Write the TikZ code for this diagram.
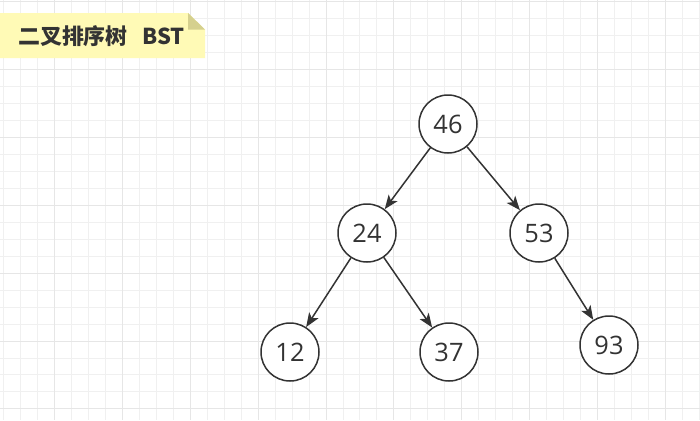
\documentclass[tikz,border=0pt]{standalone}
\usepackage{fontspec}
\setmainfont{Open Sans}
\newfontfamily\cjk{Noto Sans CJK SC}
\usetikzlibrary{arrows.meta}
\definecolor{ink}{HTML}{333333}
\definecolor{gridminor}{HTML}{F0F0F0}
\definecolor{gridmajor}{HTML}{E6E6E6}
\definecolor{notefill}{HTML}{FFFAB6}
\definecolor{notefold}{HTML}{D5D08E}
\begin{document}
\begin{tikzpicture}[x=1bp,y=-1bp,
  treenode/.style={circle, draw=ink, line width=1.5bp, minimum size=58bp, inner sep=0pt,
    font=\fontsize{25.5}{25.5}\selectfont, text=ink, fill=white},
  link/.style={draw=ink, line width=1.5bp, -{Stealth[length=14bp,width=11bp,inset=3.5bp]}},
  minorline/.style={draw=gridminor, line width=1bp},
  majorline/.style={draw=gridmajor, line width=1bp}]
\useasboundingbox (0,0) rectangle (700,420);
\fill[white] (0,0) rectangle (700,420);
% grid
\foreach \i in {0,...,41} {
  \draw[minorline] ({floor(3.8+\i*16.96)+0.5},0) -- ++(0,420);
}
\foreach \i in {0,...,25} {
  \draw[minorline] (0,{floor(1.86+\i*16.96)+0.5}) -- ++(700,0);
}
\foreach \i in {0,...,10} {
  \draw[majorline] ({floor(54.7+\i*67.84)+0.5},0) -- ++(0,420);
}
\foreach \i in {0,...,6} {
  \draw[majorline] (0,{floor(1.86+\i*67.84)+0.5}) -- ++(700,0);
}
% title note
\fill[notefill] (0,13) -- (188,13) -- (205,29.5) -- (205,58) -- (0,58) -- cycle;
\fill[notefold] (188,13) -- (188,29.5) -- (205,29.5) -- cycle;
\node[anchor=west, inner sep=0pt, text=ink, font=\cjk\bfseries\fontsize{22}{22}\selectfont] (title) at (18,36) {二叉排序树\hspace{15pt}BST};
% tree
\node[treenode] (n46) at (448,124) {46};
\node[treenode] (n24) at (367,233) {24};
\node[treenode] (n53) at (539,233) {53};
\node[treenode] (n12) at (290,352) {12};
\node[treenode] (n37) at (449,352) {37};
\node[treenode] (n93) at (609,345) {93};
\draw[link] (n46) -- (n24);
\draw[link] (n46) -- (n53);
\draw[link] (n24) -- (n12);
\draw[link] (n24) -- (n37);
\draw[link] (n53) -- (n93);
\end{tikzpicture}
\end{document}
